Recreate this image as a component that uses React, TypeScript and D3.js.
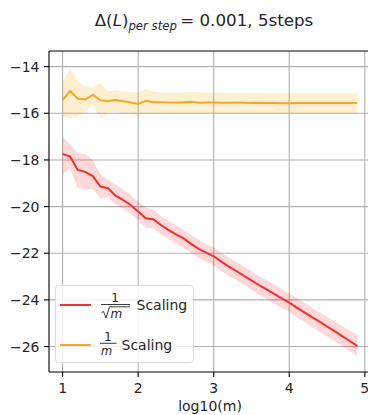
import React from "react";
import * as d3 from "d3";

const xs = [1.0,1.1,1.2,1.3,1.4,1.5,1.6,1.7,1.8,1.9,2.0,2.1,2.2,2.3,2.4,2.5,2.6,2.7,2.8,2.9,3.0,3.1,3.2,3.3,3.4,3.5,3.6,3.7,3.8,3.9,4.0,4.1,4.2,4.3,4.4,4.5,4.6,4.7,4.8,4.9];

const sqrtMean = [-17.74,-17.86,-18.43,-18.51,-18.69,-19.14,-19.21,-19.53,-19.71,-19.93,-20.21,-20.50,-20.54,-20.79,-21.00,-21.19,-21.36,-21.60,-21.81,-21.97,-22.13,-22.36,-22.57,-22.76,-22.97,-23.16,-23.37,-23.55,-23.74,-23.93,-24.12,-24.33,-24.53,-24.74,-24.93,-25.14,-25.34,-25.55,-25.76,-25.97];
const sqrtUpper = [-17.00,-17.35,-17.70,-17.75,-18.00,-18.62,-18.85,-19.05,-19.28,-19.50,-19.80,-20.05,-20.12,-20.40,-20.62,-20.80,-20.98,-21.22,-21.42,-21.60,-21.75,-21.98,-22.18,-22.38,-22.58,-22.77,-22.97,-23.15,-23.34,-23.53,-23.72,-23.92,-24.12,-24.32,-24.52,-24.72,-24.92,-25.12,-25.32,-25.53];
const sqrtLower = [-18.57,-18.40,-19.20,-19.28,-19.25,-19.65,-19.60,-19.90,-20.10,-20.30,-20.58,-20.90,-20.95,-21.18,-21.38,-21.58,-21.75,-21.98,-22.20,-22.35,-22.52,-22.75,-22.96,-23.15,-23.36,-23.56,-23.77,-23.96,-24.15,-24.34,-24.53,-24.74,-24.94,-25.16,-25.35,-25.57,-25.77,-25.98,-26.19,-26.41];

const linMean = [-15.43,-15.04,-15.37,-15.41,-15.20,-15.44,-15.47,-15.43,-15.48,-15.54,-15.60,-15.46,-15.53,-15.53,-15.54,-15.54,-15.53,-15.51,-15.55,-15.54,-15.54,-15.55,-15.55,-15.54,-15.55,-15.56,-15.55,-15.56,-15.56,-15.57,-15.57,-15.56,-15.56,-15.56,-15.56,-15.56,-15.56,-15.56,-15.56,-15.56];
const linUpper = [-14.64,-14.07,-14.64,-14.86,-14.86,-14.71,-15.07,-15.00,-15.07,-15.10,-15.11,-14.97,-15.07,-15.10,-15.12,-15.12,-15.10,-15.08,-15.10,-15.11,-15.12,-15.13,-15.13,-15.13,-15.13,-15.13,-15.13,-15.13,-15.14,-15.14,-15.14,-15.14,-15.14,-15.14,-15.14,-15.14,-15.14,-15.14,-15.14,-15.14];
const linLower = [-16.14,-16.21,-16.14,-15.93,-15.64,-16.21,-15.93,-15.95,-16.00,-16.02,-16.11,-15.98,-16.00,-16.00,-16.02,-16.01,-16.00,-15.98,-16.01,-16.00,-16.01,-16.01,-16.01,-16.00,-16.01,-16.01,-16.01,-16.01,-16.01,-16.01,-16.02,-16.01,-16.01,-16.01,-16.01,-16.01,-16.01,-16.01,-16.01,-16.01];

const xTicks = [1, 2, 3, 4, 5];
const yTicks = [-14, -16, -18, -20, -22, -24, -26];

const RED = "#f23030";
const ORANGE = "#f8a628";

export default function App() {
  const W = 368, H = 415;
  const left = 49, right = 372, top = 51, bottom = 372;
  const x = d3.scaleLinear().domain([0.82, 5.095]).range([left, right]);
  const y = d3.scaleLinear().domain([-13.33, -27.09]).range([top, bottom]);

  const line = (vals: number[]) =>
    d3.line<number>().x((_, i) => x(xs[i])).y((d) => y(d))(vals) || "";
  const band = (lo: number[], hi: number[]) =>
    d3.area<number>().x((_, i) => x(xs[i])).y0((_, i) => y(lo[i])).y1((d) => y(d))(hi) || "";

  const font = "DejaVu Sans, sans-serif";
  const tc = "#262626";

  return (
    <svg width={W} height={H} style={{ position: "absolute", left: 0, top: 0, background: "#fff" }} fontFamily={font}>
      <defs>
        <clipPath id="plotclip">
          <rect x={left} y={top} width={right - left} height={bottom - top} />
        </clipPath>
      </defs>
      <rect x={0} y={0} width={W} height={H} fill="#fff" />
      {/* title */}
      <text x={204} y={25.5} textAnchor="middle" fontSize={16.7} fill={tc}>
        <tspan>Δ(</tspan>
        <tspan fontStyle="italic">L</tspan>
        <tspan>)</tspan>
        <tspan fontStyle="italic" fontSize={11.7} dy={4}>per step</tspan>
        <tspan dy={-4}>{"\u2009= 0.001, 5steps"}</tspan>
      </text>
      {/* grid */}
      <g stroke="#b0b0b0" strokeWidth={1.1}>
        {xTicks.map((t) => (
          <line key={"gx" + t} x1={x(t)} x2={x(t)} y1={top} y2={bottom} />
        ))}
        {yTicks.map((t) => (
          <line key={"gy" + t} x1={left} x2={right} y1={y(t)} y2={y(t)} />
        ))}
      </g>
      <g clipPath="url(#plotclip)">
        <path d={band(linLower, linUpper)} fill="#ffa500" fillOpacity={0.18} />
        <path d={band(sqrtLower, sqrtUpper)} fill="#ff0000" fillOpacity={0.15} />
        <path d={line(sqrtMean)} fill="none" stroke={RED} strokeWidth={2} />
        <path d={line(linMean)} fill="none" stroke={ORANGE} strokeWidth={2} />
      </g>
      {/* spines */}
      <g stroke="#000" strokeWidth={1.1} fill="none">
        <line x1={left} x2={left} y1={top} y2={bottom} />
        <line x1={left} x2={right} y1={bottom} y2={bottom} />
        <line x1={left} x2={right} y1={top} y2={top} />
        <line x1={right} x2={right} y1={top} y2={bottom} />
      </g>
      {/* ticks */}
      {xTicks.map((t) => (
        <g key={"tx" + t}>
          <line x1={x(t)} x2={x(t)} y1={bottom} y2={bottom + 5} stroke="#000" strokeWidth={1.1} />
          <text x={x(t)} y={bottom + 21} textAnchor="middle" fontSize={14} fill={tc}>{t}</text>
        </g>
      ))}
      {yTicks.map((t) => (
        <g key={"ty" + t}>
          <line x1={left - 5} x2={left} y1={y(t)} y2={y(t)} stroke="#000" strokeWidth={1.1} />
          <text x={left - 9.5} y={y(t) + 5} textAnchor="end" fontSize={14} fill={tc}>{"\u2212" + Math.abs(t)}</text>
        </g>
      ))}
      <text x={210} y={411} textAnchor="middle" fontSize={14} fill={tc}>log10(m)</text>
      {/* legend */}
      <g>
        <rect x={55.5} y={285.5} width={138} height={77} rx={3} fill="#fff" fillOpacity={0.8} stroke="#d8d8d8" />
        <line x1={60} x2={91} y1={305} y2={305} stroke={RED} strokeWidth={2} />
        <text x={115} y={301.5} textAnchor="middle" fontSize={12} fill={tc}>1</text>
        <line x1={101} x2={130} y1={304.5} y2={304.5} stroke={tc} strokeWidth={0.9} />
        <path d="M101.5,312.5 L103.5,311.5 L106,318 L109.5,306.8 L130,306.8" fill="none" stroke={tc} strokeWidth={0.9} />
        <text x={110.5} y={318} fontSize={12} fontStyle="italic" fill={tc}>m</text>
        <text x={136.5} y={310} fontSize={14} fill={tc}>Scaling</text>
        <line x1={60} x2={91} y1={345} y2={345} stroke={ORANGE} strokeWidth={2} />
        <text x={108} y={341} textAnchor="middle" fontSize={11.5} fill={tc}>1</text>
        <line x1={100} x2={116.5} y1={343.3} y2={343.3} stroke={tc} strokeWidth={0.9} />
        <text x={101} y={354.5} fontSize={11.5} fontStyle="italic" fill={tc}>m</text>
        <text x={121.5} y={350} fontSize={14} fill={tc}>Scaling</text>
      </g>
    </svg>
  );
}
